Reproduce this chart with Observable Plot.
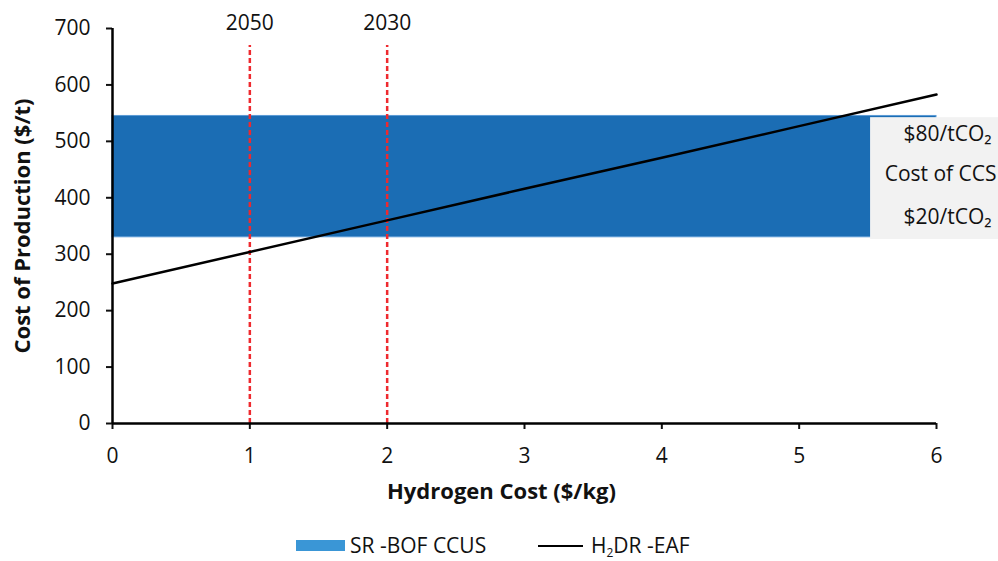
<!DOCTYPE html>
<html>
<head>
<meta charset="utf-8">
<script src="https://cdn.jsdelivr.net/npm/d3@7"></script>
<script src="https://cdn.jsdelivr.net/npm/@observablehq/plot@0.6"></script>
<style>
  html, body { margin: 0; padding: 0; background: #fff; }
  body { width: 998px; height: 561px; overflow: hidden; font-family: "Open Sans", sans-serif; }
  #legend { position: relative; height: 36px; font-size: 21px; color: #111; }
  .item { position: absolute; top: 6px; display: flex; align-items: center; }
  .sw-box { width: 49px; height: 11px; background: #3a96d6; margin-right: 5px; }
  .sw-line { width: 45px; height: 0; border-top: 2px solid #000; margin-right: 8px; }
  sub { font-size: 12px; vertical-align: -4px; }
</style>
</head>
<body>
<div id="chart"></div>
<div id="legend">
  <div class="item" style="left:296px"><div class="sw-box"></div><span>SR -BOF CCUS</span></div>
  <div class="item" style="left:538px"><div class="sw-line"></div><span>H<sub>2</sub>DR -EAF</span></div>
</div>
<script>
// Hydrogen cost ($/kg) and H2 DR-EAF cost of production ($/t)
const hydrogenCost = [0, 1, 2, 3, 4, 5, 6];
const h2drEaf = [248, 304, 360, 416, 471, 527, 583];
// SR-BOF CCUS band (cost range across CCS cost $20–$80/tCO2)
const ccusRange = [{x1: 0, x2: 6, low: 330, high: 545}];
// Year markers
const yearX = [1, 2];
const yearLabels = ["2050", "2030"];
// CCS cost annotation box
const ccsBox = [{x1: 5.52, x2: 6.5, low: 326, high: 542}];
const ccsLabels = ["$80/tCO\u2082", "Cost of CCS", "$20/tCO\u2082"];
const ccsLabelX = [6.08, 6.03, 6.08];
const ccsLabelY = [512, 442, 366];
const ccsLabelSpacing = ["0px", "-0.9px", "0px"];
const xTicks = [0, 1, 2, 3, 4, 5, 6];
const yTicks = [0, 100, 200, 300, 400, 500, 600, 700];

const lineData = hydrogenCost.map((x, i) => ({x, y: h2drEaf[i]}));
const years = yearX.map((x, i) => ({x, label: yearLabels[i]}));
const labels = ccsLabels.map((t, i) => ({t, x: ccsLabelX[i], y: ccsLabelY[i], ls: ccsLabelSpacing[i]}));

const chart = Plot.plot({
  width: 998,
  height: 525,
  marginLeft: 112,
  marginRight: 62,
  marginTop: 28,
  marginBottom: 102,
  style: {fontFamily: "Open Sans, sans-serif", fontSize: "21px", color: "#111", background: "#fff"},
  x: {domain: [0, 6]},
  y: {domain: [0, 700]},
  marks: [
    Plot.rect(ccusRange, {x1: "x1", x2: "x2", y1: "low", y2: "high", fill: "#1b6db4", stroke: "#5b9bd5", strokeWidth: 1}),
    Plot.rect(ccsBox, {x1: "x1", x2: "x2", y1: "low", y2: "high", fill: "#f2f2f2", clip: false}),
    ...labels.map(l => Plot.text([l], {x: "x", y: "y", text: "t", fontSize: 21, fill: "#111", textAnchor: "middle", clip: false, letterSpacing: l.ls})),
    Plot.ruleX(years, {x: "x", y1: 0, y2: 670, stroke: "#ee2a2f", strokeWidth: 2.5, strokeDasharray: "5,3"}),
    Plot.text(years, {x: "x", text: "label", frameAnchor: "top", dy: -13, fontSize: 21, fill: "#111"}),
    Plot.line(lineData, {x: "x", y: "y", stroke: "#000", strokeWidth: 2.5}),
    Plot.axisY({ticks: yTicks, tickSize: 6, tickPadding: 16, label: null, tickFormat: d => d, fontSize: 21, strokeWidth: 2}),
    Plot.axisX({ticks: xTicks, tickSize: 6, tickPadding: 19, label: null, tickFormat: d => d, fontSize: 21, strokeWidth: 2}),
    Plot.ruleX([0], {y1: 0, y2: 700, stroke: "#000", strokeWidth: 2.5}),
    Plot.ruleY([0], {x1: 0, x2: 6, stroke: "#000", strokeWidth: 2.5}),
    Plot.text(["Cost of Production ($/t)"], {frameAnchor: "left", textAnchor: "middle", rotate: -90, dx: -90, fontWeight: "bold", fontSize: 22, fill: "#111", letterSpacing: "-0.3px"}),
    Plot.text(["Hydrogen Cost ($/kg)"], {frameAnchor: "bottom", textAnchor: "middle", dx: -23, dy: 75, fontWeight: "bold", fontSize: 22, fill: "#111"})
  ]
});
document.getElementById("chart").appendChild(chart);
</script>
</body>
</html>
